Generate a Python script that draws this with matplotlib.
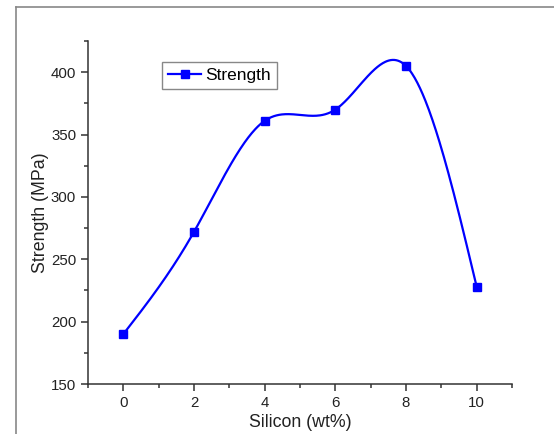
import numpy as np
import matplotlib.pyplot as plt
from matplotlib.lines import Line2D
from matplotlib.ticker import MultipleLocator

silicon = [0, 2, 4, 6, 8, 10]
strength = [190, 272, 361, 370, 405, 228]


def natural_spline(x, y, xs):
    # natural cubic spline through the measured points
    x = np.asarray(x, float)
    y = np.asarray(y, float)
    n = len(x)
    h = np.diff(x)
    A = np.zeros((n, n))
    b = np.zeros(n)
    A[0, 0] = A[-1, -1] = 1
    for i in range(1, n - 1):
        A[i, i - 1] = h[i - 1]
        A[i, i] = 2 * (h[i - 1] + h[i])
        A[i, i + 1] = h[i]
        b[i] = 3 * ((y[i + 1] - y[i]) / h[i] - (y[i] - y[i - 1]) / h[i - 1])
    c = np.linalg.solve(A, b)
    idx = np.clip(np.searchsorted(x, xs) - 1, 0, n - 2)
    dx = xs - x[idx]
    hb = h[idx]
    bb = (y[idx + 1] - y[idx]) / hb - hb * (2 * c[idx] + c[idx + 1]) / 3
    d = (c[idx + 1] - c[idx]) / (3 * hb)
    return y[idx] + bb * dx + c[idx] * dx ** 2 + d * dx ** 3


plt.rcParams['font.family'] = ['Liberation Sans', 'DejaVu Sans']

fig = plt.figure(figsize=(5.54, 4.34), dpi=100)
ax = fig.add_axes([88 / 554, 1 - 384 / 434, 424 / 554, 343 / 434])

xs = np.linspace(silicon[0], silicon[-1], 400)
ax.plot(xs, natural_spline(silicon, strength, xs), color='#0000ff', lw=1.6)
ax.plot(silicon, strength, 's', color='#0000ff', ms=5.5)
ax.plot([], [], '-s', color='#0000ff', lw=1.6, ms=5.5, label='Strength')

ax.set_xlim(-1, 11)
ax.set_ylim(150, 425)
ax.xaxis.set_major_locator(MultipleLocator(2))
ax.xaxis.set_minor_locator(MultipleLocator(1))
ax.yaxis.set_major_locator(MultipleLocator(50))
ax.yaxis.set_minor_locator(MultipleLocator(25))

for s in ['top', 'right']:
    ax.spines[s].set_visible(False)
for s in ['left', 'bottom']:
    ax.spines[s].set_color('#333333')
    ax.spines[s].set_linewidth(1.1)
ax.tick_params(which='major', direction='out', length=5, width=1.1, color='#333333',
               labelsize=10.8, labelcolor='#222222')
ax.tick_params(which='minor', direction='out', length=3, width=1.1, color='#333333')

ax.set_xlabel('Silicon (wt%)', fontsize=12.8, color='#222222', labelpad=3)
ax.set_ylabel('Strength (MPa)', fontsize=12.8, color='#222222', labelpad=1)

leg = ax.legend(loc='upper left', bbox_to_anchor=(74 / 424, 1 - 21 / 343), fontsize=12.5,
                fancybox=False, edgecolor='#888888', framealpha=1, borderpad=0.35,
                handlelength=1.9, handletextpad=0.25, borderaxespad=0)
leg.get_frame().set_linewidth(1.0)

# outer frame lines
fig.add_artist(Line2D([16 / 554, 16 / 554], [0, 1 - 7 / 434], color='#888888', lw=1.2))
fig.add_artist(Line2D([16 / 554, 1], [1 - 7 / 434, 1 - 7 / 434], color='#888888', lw=1.2))

fig.savefig('out.png', dpi=100)
